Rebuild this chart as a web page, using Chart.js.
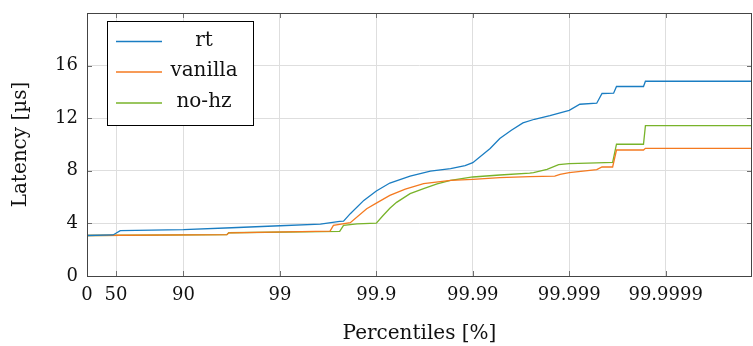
<!DOCTYPE html>
<html>
<head>
<meta charset="utf-8">
<script src="https://cdn.jsdelivr.net/npm/chart.js@4"></script>
<style>
    html, body { margin: 0; padding: 0; background: #ffffff; }
    #wrap { width: 753px; height: 346px; }
</style>
</head>
<body>
<div id="wrap"><canvas id="latencyChart" width="753" height="346"></canvas></div>
<script>
// x axis is in "nines": -log10(1 - p)
const tickPercentiles = [0, 50, 90, 99, 99.9, 99.99, 99.999, 99.9999];
const tickLabels = ["0", "50", "90", "99", "99.9", "99.99", "99.999", "99.9999"];
const yTicks = [0, 4, 8, 12, 16];
const seriesNames = ["rt", "vanilla", "no-hz"];

const rtX = [0, 0.27, 0.345, 1.0, 1.5, 2.0, 2.42, 2.62, 2.66, 2.73, 2.87, 3.0, 3.14, 3.35, 3.56, 3.77, 3.92, 4.0, 4.18, 4.28, 4.40, 4.52, 4.64, 4.80, 5.0, 5.11, 5.285, 5.34, 5.46, 5.49, 5.77, 5.79, 6.895];
const rtY = [3.08, 3.12, 3.45, 3.52, 3.67, 3.82, 3.95, 4.15, 4.17, 4.74, 5.75, 6.46, 7.07, 7.6, 7.98, 8.16, 8.4, 8.62, 9.7, 10.45, 11.08, 11.64, 11.92, 12.2, 12.6, 13.06, 13.14, 13.88, 13.9, 14.41, 14.41, 14.81, 14.81];

const vanillaX = [0, 1.45, 1.47, 2.52, 2.555, 2.73, 2.9, 3.0, 3.14, 3.30, 3.49, 3.77, 4.0, 4.28, 4.59, 4.85, 4.905, 5.0, 5.285, 5.34, 5.45, 5.49, 5.77, 5.79, 6.895];
const vanillaY = [3.08, 3.14, 3.28, 3.41, 3.85, 4.05, 5.12, 5.54, 6.13, 6.6, 7.02, 7.27, 7.35, 7.48, 7.55, 7.6, 7.73, 7.86, 8.09, 8.29, 8.29, 9.58, 9.58, 9.71, 9.71];

const nohzX = [0, 1.45, 1.47, 2.62, 2.66, 2.8, 3.0, 3.07, 3.14, 3.21, 3.35, 3.49, 3.63, 3.77, 4.0, 4.28, 4.59, 4.63, 4.77, 4.89, 5.0, 5.285, 5.45, 5.49, 5.77, 5.79, 6.895];
const nohzY = [3.08, 3.14, 3.29, 3.39, 3.85, 3.97, 4.02, 4.6, 5.15, 5.6, 6.26, 6.64, 7.0, 7.27, 7.53, 7.68, 7.83, 7.86, 8.11, 8.47, 8.55, 8.6, 8.64, 10.02, 10.02, 11.44, 11.44];

const xMax = 6.895;
const yMax = 20;

function nines(p) {
    return -Math.log10(1 - p / 100);
}

function toPoints(xs, ys) {
    return xs.map((x, i) => ({ x: x, y: ys[i] }));
}

const palette = {
    rt: "#1a7dc2",
    vanilla: "#f47a20",
    nohz: "#78b32a",
    grid: "#dedede",
    border: "#444444",
    tick: "#707070",
    text: "#111111",
};

const serif = "'DejaVu Serif', serif";
const tickPositions = tickPercentiles.map(nines);

// box frame, inner tick marks on all sides, and the legend in the top left
const framePlugin = {
    id: "frame",
    afterDatasetsDraw(chart) {
        const ctx = chart.ctx;
        const a = chart.chartArea;
        const xs = chart.scales.x;
        const ys = chart.scales.y;
        ctx.save();

        ctx.strokeStyle = palette.tick;
        ctx.lineWidth = 1;
        ctx.beginPath();
        tickPositions.forEach((v) => {
            const px = Math.round(xs.getPixelForValue(v)) + 0.5;
            ctx.moveTo(px, a.bottom);
            ctx.lineTo(px, a.bottom - 5);
            ctx.moveTo(px, a.top);
            ctx.lineTo(px, a.top + 5);
        });
        yTicks.forEach((v) => {
            const py = Math.round(ys.getPixelForValue(v)) + 0.5;
            ctx.moveTo(a.left, py);
            ctx.lineTo(a.left + 5, py);
            ctx.moveTo(a.right, py);
            ctx.lineTo(a.right - 5, py);
        });
        ctx.stroke();

        ctx.strokeStyle = palette.border;
        ctx.strokeRect(Math.round(a.left) + 0.5, Math.round(a.top) + 0.5,
            Math.round(a.right - a.left) - 1, Math.round(a.bottom - a.top));

        // legend
        const lx = 107.5, ly = 21.5, lw = 146, lh = 104;
        ctx.fillStyle = "#ffffff";
        ctx.fillRect(lx, ly, lw, lh);
        ctx.strokeStyle = "#000000";
        ctx.strokeRect(lx, ly, lw, lh);
        const rows = [41.5, 72, 103];
        ctx.font = "20px " + serif;
        ctx.textAlign = "center";
        ctx.textBaseline = "middle";
        chart.data.datasets.forEach((ds, i) => {
            ctx.strokeStyle = ds.borderColor;
            ctx.lineWidth = 1.3;
            ctx.beginPath();
            ctx.moveTo(116, rows[i]);
            ctx.lineTo(162, rows[i]);
            ctx.stroke();
            ctx.fillStyle = palette.text;
            ctx.fillText(ds.label, 204, rows[i] - 1);
        });
        ctx.restore();
    },
};

const ctx = document.getElementById("latencyChart").getContext("2d");
new Chart(ctx, {
    type: "line",
    data: {
        datasets: [
            {
                label: seriesNames[0],
                data: toPoints(rtX, rtY),
                borderColor: palette.rt,
                borderWidth: 1.3,
                pointRadius: 0,
                tension: 0,
            },
            {
                label: seriesNames[1],
                data: toPoints(vanillaX, vanillaY),
                borderColor: palette.vanilla,
                borderWidth: 1.3,
                pointRadius: 0,
                tension: 0,
            },
            {
                label: seriesNames[2],
                data: toPoints(nohzX, nohzY),
                borderColor: palette.nohz,
                borderWidth: 1.3,
                pointRadius: 0,
                tension: 0,
            },
        ],
    },
    options: {
        responsive: false,
        animation: false,
        layout: {
            padding: { top: 13, right: 1, left: 0, bottom: 0 },
        },
        plugins: {
            legend: { display: false },
            tooltip: { enabled: false },
        },
        scales: {
            x: {
                type: "linear",
                min: 0,
                max: xMax,
                afterBuildTicks: (scale) => {
                    scale.ticks = tickPositions.map((v) => ({ value: v }));
                },
                afterFit: (scale) => {
                    scale.height = 70;
                    scale.paddingLeft = 0;
                    scale.paddingRight = 0;
                },
                ticks: {
                    autoSkip: false,
                    maxRotation: 0,
                    padding: 9,
                    color: palette.text,
                    font: { family: serif, size: 18 },
                    callback: (value, index) => tickLabels[index],
                },
                grid: {
                    color: palette.grid,
                    drawTicks: false,
                },
                border: { display: false },
                title: {
                    display: true,
                    text: "Percentiles [%]",
                    color: palette.text,
                    font: { family: serif, size: 20 },
                    padding: { top: 0, bottom: 0 },
                },
            },
            y: {
                min: 0,
                max: yMax,
                afterBuildTicks: (scale) => {
                    scale.ticks = yTicks.map((v) => ({ value: v }));
                },
                afterFit: (scale) => {
                    scale.width = 87;
                    scale.paddingTop = 0;
                    scale.paddingBottom = 0;
                },
                ticks: {
                    padding: 9,
                    color: palette.text,
                    font: { family: serif, size: 18 },
                },
                grid: {
                    color: palette.grid,
                    drawTicks: false,
                },
                border: { display: false },
                title: {
                    display: true,
                    text: "Latency [µs]",
                    color: palette.text,
                    font: { family: serif, size: 20 },
                    padding: { top: 9, bottom: 0 },
                },
            },
        },
    },
    plugins: [framePlugin],
});
</script>
</body>
</html>
